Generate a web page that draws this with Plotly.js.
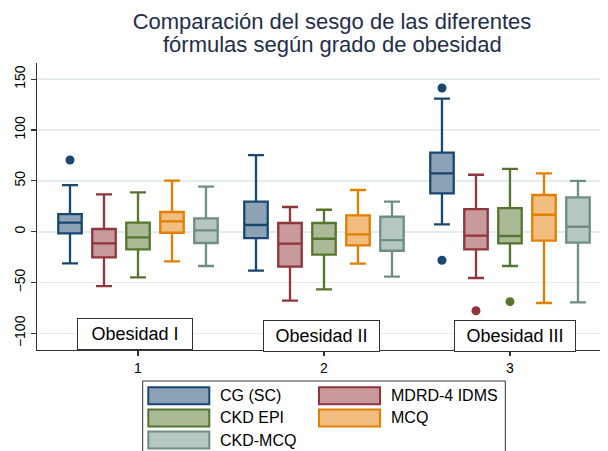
<!DOCTYPE html>
<html><head><meta charset="utf-8">
<script src="https://cdn.plot.ly/plotly-3.0.1.min.js"></script>
<style>html,body{margin:0;padding:0;background:#fff}</style>
</head><body><div id="chart" style="width:608px;height:451px"></div>
<script>
// ---------- data ----------
const categories = [1, 2, 3];
const groupLabels = ["Obesidad I", "Obesidad II", "Obesidad III"];
const seriesNames = ["CG (SC)", "MDRD-4 IDMS", "CKD EPI", "MCQ", "CKD-MCQ"];
const titleLines = ["Comparación del sesgo de las diferentes", "fórmulas según grado de obesidad"];
const yTickVals = [-100, -50, 0, 50, 100, 150];

const cgLower  = [-31.1, -38.3, 7.3];
const cgQ1     = [-1.6, -6.2, 37.8];
const cgMedian = [8.9, 6.6, 57.4];
const cgQ3     = [17.4, 29.5, 77.7];
const cgUpper  = [45.9, 75.4, 130.8];
const cgOutX   = [1, 3, 3];
const cgOutY   = [70.5, 141.3, -28.1];

const mdrdLower  = [-53.4, -67.8, -45.5];
const mdrdQ1     = [-25.2, -34.4, -17.3];
const mdrdMedian = [-11.4, -11.8, -3.9];
const mdrdQ3     = [2.7, 8.6, 22.3];
const mdrdUpper  = [36.8, 24.3, 56.0];
const mdrdOutX   = [3];
const mdrdOutY   = [-77.7];

const epiLower  = [-44.8, -56.7, -33.7];
const epiQ1     = [-17.3, -22.6, -11.4];
const epiMedian = [-5.5, -6.9, -4.2];
const epiQ3     = [8.9, 8.6, 23.3];
const epiUpper  = [38.7, 21.6, 61.7];
const epiOutX   = [3];
const epiOutY   = [-68.8];

const mcqLower  = [-29.1, -31.4, -70.1];
const mcqQ1     = [-1.0, -13.4, -8.8];
const mcqMedian = [10.2, -2.6, 16.7];
const mcqQ3     = [19.4, 16.1, 36.1];
const mcqUpper  = [50.2, 41.0, 57.4];
const mcqOutX   = [];
const mcqOutY   = [];

const ckdmcqLower  = [-33.7, -44.2, -69.4];
const ckdmcqQ1     = [-11.1, -18.7, -10.8];
const ckdmcqMedian = [1.4, -8.2, 4.9];
const ckdmcqQ3     = [13.2, 14.7, 33.8];
const ckdmcqUpper  = [44.3, 29.5, 49.9];
const ckdmcqOutX   = [];
const ckdmcqOutY   = [];

// ---------- styles ----------
const lineColors = ['#1a476f', '#90353b', '#55752f', '#e37e00', '#6e8e84'];
const fillColors = ['#8ca3b7', '#c89a9d', '#aaba97', '#f1be7f', '#b6c6c1'];
const FONT = 'Liberation Sans, Arial, Helvetica, sans-serif';
const BOXGAP = 0.086, BOXGROUPGAP = 0.31;

const stats = [
  [cgLower, cgQ1, cgMedian, cgQ3, cgUpper, cgOutX, cgOutY],
  [mdrdLower, mdrdQ1, mdrdMedian, mdrdQ3, mdrdUpper, mdrdOutX, mdrdOutY],
  [epiLower, epiQ1, epiMedian, epiQ3, epiUpper, epiOutX, epiOutY],
  [mcqLower, mcqQ1, mcqMedian, mcqQ3, mcqUpper, mcqOutX, mcqOutY],
  [ckdmcqLower, ckdmcqQ1, ckdmcqMedian, ckdmcqQ3, ckdmcqUpper, ckdmcqOutX, ckdmcqOutY]
];
const nSeries = stats.length;
const slot = (1 - BOXGAP) / nSeries;   // same slot width Plotly uses for grouped boxes

const traces = [];
stats.forEach((s, i) => {
  traces.push({
    type: 'box', name: seriesNames[i], x: categories,
    lowerfence: s[0], q1: s[1], median: s[2], q3: s[3], upperfence: s[4],
    fillcolor: fillColors[i], line: {color: lineColors[i], width: 2.3},
    whiskerwidth: 0.68, boxpoints: false,
    showlegend: false, hoverinfo: 'skip'
  });
});
stats.forEach((s, i) => {
  const off = (i - (nSeries - 1) / 2) * slot;
  traces.push({
    type: 'scatter', mode: 'markers', name: seriesNames[i] + ' outliers',
    x: s[5].map(v => v + off), y: s[6],
    marker: {size: 9, color: lineColors[i]},
    showlegend: false, hoverinfo: 'skip'
  });
});

// pixel helpers for legend (plot area: x 37..600, y 63..350)
const ML = 37, MR = 8, MT = 63, MB = 101, W = 608, H = 451;
const PW = W - ML - MR, PH = H - MT - MB;
const px = X => (X - ML) / PW;
const py = Y => (H - MB - Y) / PH;

const shapes = [];
const annotations = [];

annotations.push({
  xref: 'paper', yref: 'paper', x: px(332), y: py(44.5), xanchor: 'center', yanchor: 'middle',
  text: titleLines[1], showarrow: false, font: {family: FONT, size: 22, color: '#1f2e4d'}
});

const labelWidths = [108, 109, 114];
const labelXShift = [-3, -2, 5];
const labelYShift = [0, -2, -2];
groupLabels.forEach((t, i) => {
  annotations.push({
    xref: 'x', yref: 'y', x: categories[i], y: -116.3, xanchor: 'center', yanchor: 'bottom',
    xshift: labelXShift[i], yshift: labelYShift[i],
    text: t, showarrow: false, font: {family: FONT, size: 18, color: '#000'},
    bgcolor: '#ffffff', bordercolor: '#333333', borderwidth: 1, borderpad: 3,
    width: labelWidths[i], height: 24
  });
});

// legend frame
shapes.push({type: 'rect', xref: 'paper', yref: 'paper', x0: px(142.7), x1: px(505.3), y0: py(381), y1: py(470),
  line: {color: '#333333', width: 1}, fillcolor: '#ffffff', layer: 'above'});
const symX = [148.3, 319];
const txtX = [218, 389.3];
seriesNames.forEach((n, i) => {
  const r = Math.floor(i / 2), c = i % 2;
  const yc = 395.7 + r * 22.2;
  shapes.push({type: 'rect', xref: 'paper', yref: 'paper',
    x0: px(symX[c]), x1: px(symX[c] + 61), y0: py(yc - 8.5), y1: py(yc + 8.5),
    fillcolor: fillColors[i], line: {color: lineColors[i], width: 2}, layer: 'above'});
  annotations.push({xref: 'paper', yref: 'paper', x: px(txtX[c]), y: py(yc), xanchor: 'left', yanchor: 'middle',
    text: n, showarrow: false, font: {family: FONT, size: 16, color: '#000'}});
});

const layout = {
  width: W, height: H,
  margin: {l: ML, r: MR, t: MT, b: MB, pad: 0},
  paper_bgcolor: '#ffffff', plot_bgcolor: '#ffffff',
  font: {family: FONT, color: '#000'},
  title: {text: titleLines[0], font: {family: FONT, size: 22, color: '#1f2e4d'},
    xref: 'container', yref: 'container', x: 332 / W, xanchor: 'center', y: 1 - 21 / H, yanchor: 'middle'},
  boxmode: 'group', boxgap: BOXGAP, boxgroupgap: BOXGROUPGAP,
  showlegend: false,
  xaxis: {range: [0.457, 3.484], tickvals: categories, ticktext: categories.map(String),
    ticks: 'outside', ticklen: 5, tickwidth: 1.2, tickcolor: '#333',
    showline: true, linecolor: '#333', linewidth: 1.3, showgrid: false, zeroline: false,
    tickfont: {size: 14, color: '#000'}},
  yaxis: {range: [-116.3, 165.9], tickvals: yTickVals,
    ticks: 'outside', ticklen: 5, tickwidth: 1.2, tickcolor: '#333', tickangle: -90,
    showline: true, linecolor: '#333', linewidth: 1.3, showgrid: true, gridcolor: '#e4ecf0', gridwidth: 1.6,
    zeroline: false, tickfont: {size: 14, color: '#000'}},
  shapes: shapes, annotations: annotations
};

Plotly.newPlot('chart', traces, layout, {staticPlot: true, displayModeBar: false});
</script></body></html>
